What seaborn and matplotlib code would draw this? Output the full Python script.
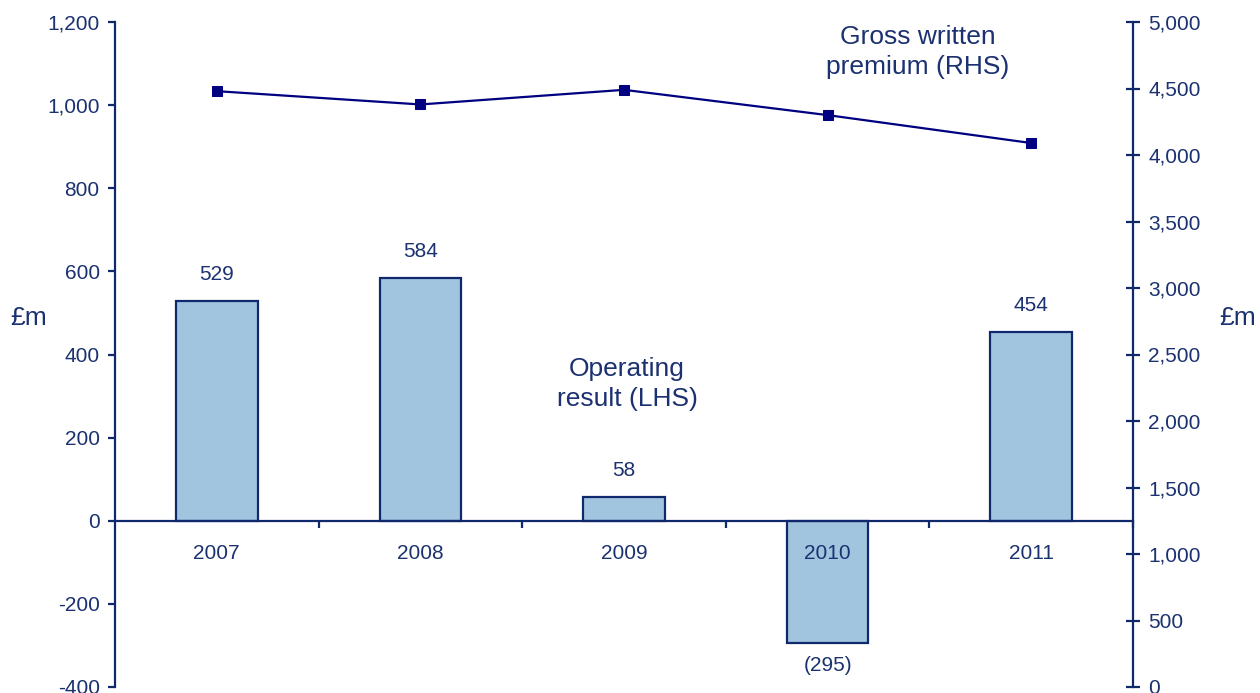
import numpy as np
import pandas as pd
import matplotlib
matplotlib.use("Agg")
import matplotlib.pyplot as plt
import seaborn as sns
from matplotlib.ticker import FuncFormatter, FixedLocator

years = ["2007", "2008", "2009", "2010", "2011"]
operating_result = [529, 584, 58, -295, 454]
gross_written_premium = [4480, 4380, 4490, 4300, 4090]
bar_labels = ["529", "584", "58", "(295)", "454"]
left_ticks = [-400, -200, 0, 200, 400, 600, 800, 1000, 1200]
right_ticks = [0, 500, 1000, 1500, 2000, 2500, 3000, 3500, 4000, 4500, 5000]

sns.set_style("white")
plt.rcParams["font.family"] = ["Liberation Sans", "DejaVu Sans"]

TXT = "#1b3170"
AXC = "#10296c"
BAR = "#a1c4df"
LINE = "#000080"

fig = plt.figure(figsize=(12.6, 6.93), dpi=100)
ax = fig.add_axes([115/1260, 1 - 687/693, (1133-115)/1260, (687-22)/693])

df = pd.DataFrame({"year": years, "op": operating_result})
sns.barplot(data=df, x="year", y="op", ax=ax, color=BAR, edgecolor=AXC,
            linewidth=1.6, width=0.4, saturation=1)
ax.set_axisbelow(False)
ax.set_xlim(-0.5, len(years) - 0.5)
ax.set_ylim(-400, 1200)
ax.yaxis.set_major_locator(FixedLocator(left_ticks))
ax.yaxis.set_major_formatter(FuncFormatter(lambda v, p: f"{int(v):,}"))
ax.set_xlabel("")
ax.set_ylabel("")

for s in ["top", "right"]:
    ax.spines[s].set_visible(False)
ax.spines["bottom"].set_position(("data", 0))
for s in ["left", "bottom"]:
    ax.spines[s].set_color(AXC)
    ax.spines[s].set_linewidth(1.6)

ax.tick_params(axis="y", direction="out", length=5, width=1.6, color=AXC,
               labelcolor=TXT, labelsize=15, pad=6, left=True)
ax.tick_params(axis="x", which="major", length=0, labelcolor=TXT,
               labelsize=15, pad=17, bottom=True)
ax.set_xticks(np.arange(len(years)) + 0.5, minor=True)
ax.tick_params(axis="x", which="minor", direction="out", length=5, width=1.6,
               color=AXC, bottom=True)

for i, (v, lab) in enumerate(zip(operating_result, bar_labels)):
    off = 19 if v >= 0 else -16
    ax.annotate(lab, (i, v), xytext=(0, off), textcoords="offset points",
                ha="center", va="center", fontsize=15, color=TXT)

ax2 = ax.twinx()
sns.lineplot(x=np.arange(len(years)), y=gross_written_premium, ax=ax2,
             color=LINE, linewidth=1.6, marker="s", markersize=7,
             markeredgecolor=LINE, markerfacecolor=LINE)
ax2.set_ylim(0, 5000)
ax2.yaxis.set_major_locator(FixedLocator(right_ticks))
ax2.yaxis.set_major_formatter(FuncFormatter(lambda v, p: f"{int(v):,}"))
for s in ["top", "left", "bottom"]:
    ax2.spines[s].set_visible(False)
ax2.spines["right"].set_color(AXC)
ax2.spines["right"].set_linewidth(1.6)
ax2.tick_params(axis="y", direction="inout", length=10, width=1.6, color=AXC,
                labelcolor=TXT, labelsize=15, pad=6, right=True)
ax2.set_ylabel("")

fig.text(29/1260, 1 - 318/693, "£m", ha="center", va="center", fontsize=19, color=TXT)
fig.text(1238/1260, 1 - 318/693, "£m", ha="center", va="center", fontsize=19, color=TXT)
fig.text(918/1260, 1 - 52/693, "Gross written\npremium (RHS)", ha="center",
         va="center", fontsize=19, color=TXT, linespacing=1.35)
fig.text(627/1260, 1 - 384/693, "Operating\nresult (LHS)", ha="center",
         va="center", fontsize=19, color=TXT, linespacing=1.35)

fig.savefig("out.png", dpi=100)
